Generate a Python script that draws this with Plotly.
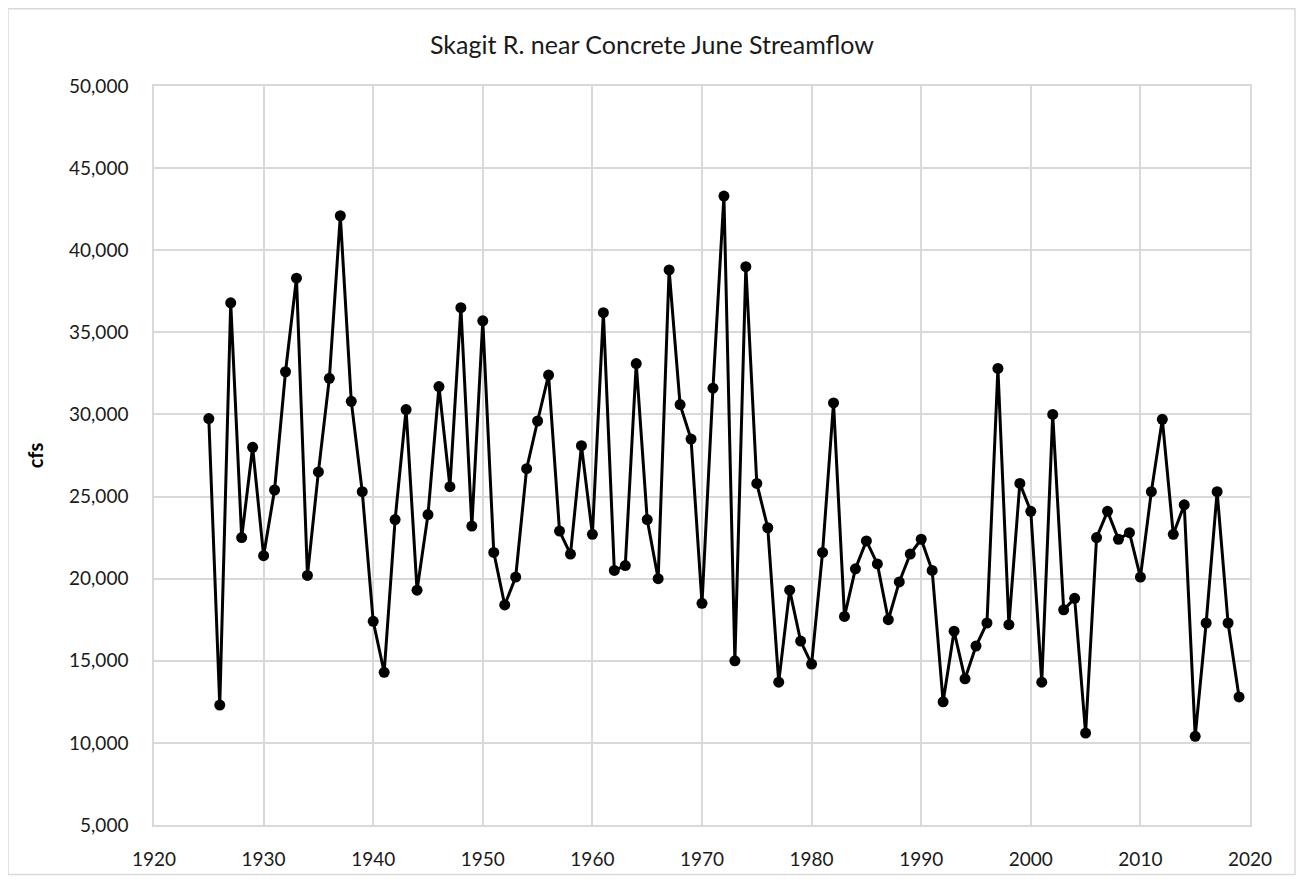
import plotly.graph_objects as go

years = list(range(1925, 2020))
flow_cfs = [
    29750, 12300, 36800, 22500, 28000, 21400, 25400, 32600, 38300, 20200,
    26500, 32200, 42100, 30800, 25300, 17400, 14300, 23600, 30300, 19300,
    23900, 31700, 25600, 36500, 23200, 35700, 21600, 18400, 20100, 26700,
    29600, 32400, 22900, 21500, 28100, 22700, 36200, 20500, 20800, 33100,
    23600, 20000, 38800, 30600, 28500, 18500, 31600, 43300, 15000, 39000,
    25800, 23100, 13700, 19300, 16200, 14800, 21600, 30700, 17700, 20600,
    22300, 20900, 17500, 19800, 21500, 22400, 20500, 12500, 16800, 13900,
    15900, 17300, 32800, 17200, 25800, 24100, 13700, 30000, 18100, 18800,
    10600, 22500, 24100, 22400, 22800, 20100, 25300, 29700, 22700, 24500,
    10400, 17300, 25300, 17300, 12800,
]

title_text = "Skagit R. near Concrete June Streamflow"
y_title = "cfs"

FONT = "Lato, 'Open Sans', sans-serif"
GRID = "#d9d9d9"
TXT = "#1a1a1a"

fig = go.Figure()
fig.add_trace(go.Scatter(
    x=years, y=flow_cfs, mode="lines+markers",
    line=dict(color="black", width=3),
    marker=dict(color="black", size=11),
    showlegend=False,
))

# page has an 8px body margin; figure coords = page coords - 8
W, H = 1288, 874
ml, mr, mt, mb = 146, W - 1242, 78, H - 823
pw, ph = W - ml - mr, H - mt - mb

fig.update_layout(
    width=W, height=H,
    margin=dict(l=ml, r=mr, t=mt, b=mb),
    paper_bgcolor="white", plot_bgcolor="white",
    font=dict(family=FONT, size=19, color=TXT),
    title=dict(text=title_text, x=0.5, xanchor="center", y=1 - 37 / H, yanchor="middle",
               font=dict(family=FONT, size=25, color=TXT)),
    xaxis=dict(range=[1920, 2020], tickmode="linear", tick0=1920, dtick=10,
               showgrid=True, gridcolor=GRID, gridwidth=1.5,
               showline=True, linecolor=GRID, linewidth=1.5, mirror=True,
               zeroline=False, ticks="", ticklabelstandoff=16,
               tickfont=dict(family=FONT, size=19, color=TXT)),
    yaxis=dict(range=[5000, 50000], tickmode="linear", tick0=5000, dtick=5000,
               tickformat=",", showgrid=True, gridcolor=GRID, gridwidth=1.5,
               showline=True, linecolor=GRID, linewidth=1.5, mirror=True,
               zeroline=False, ticks="", ticklabelstandoff=20,
               title=dict(text="<b>" + y_title + "</b>", standoff=20,
                          font=dict(family=FONT, size=20, color="#000000")),
               tickfont=dict(family=FONT, size=19, color=TXT)),
)

# outer chart border
fig.add_shape(type="rect", xref="paper", yref="paper",
              x0=(0 - ml) / pw, x1=(W - 1 - ml) / pw,
              y0=-(H - 1 - mt - ph) / ph, y1=1 + (mt - 0) / ph,
              line=dict(color=GRID, width=1.5), fillcolor="rgba(0,0,0,0)", layer="below")

fig.write_html("out.html")
